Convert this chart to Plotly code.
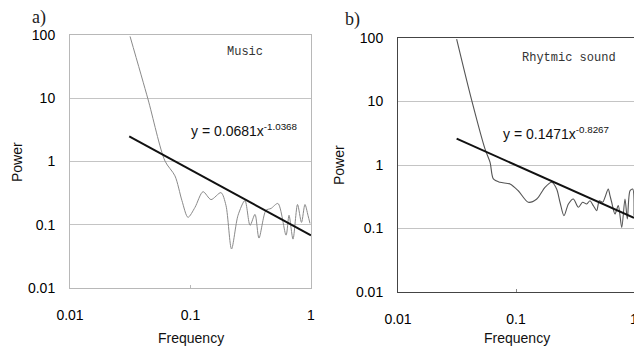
import plotly.graph_objects as go

OFF = 8  # page body margin in the browser
W, H = 642 - OFF, 349 - OFF

# ---- data ----
music_freq = [0.0315, 0.0443, 0.0614, 0.0743, 0.0849, 0.0953, 0.1089, 0.127, 0.148, 0.179,
              0.197, 0.219, 0.248, 0.283, 0.312, 0.343, 0.370, 0.423, 0.466, 0.532,
              0.621, 0.657, 0.709, 0.773, 0.834, 0.891, 0.944, 0.981]
music_power = [95, 9.8, 1.02, 0.593, 0.241, 0.131, 0.188, 0.333, 0.250, 0.322,
               0.202, 0.0414, 0.141, 0.241, 0.098, 0.146, 0.0616, 0.169, 0.181, 0.217,
               0.0685, 0.141, 0.0593, 0.209, 0.109, 0.209, 0.141, 0.105]
music_trend_x = [0.031, 1.0]
music_trend_y = [2.5, 0.0681]

rhythm_freq = [0.0314, 0.0422, 0.0546, 0.0603, 0.0643, 0.0732, 0.0889, 0.1045, 0.127, 0.150,
               0.176, 0.201, 0.221, 0.236, 0.255, 0.278, 0.306, 0.338, 0.367, 0.397,
               0.424, 0.452, 0.483, 0.508, 0.543, 0.568, 0.605, 0.626, 0.647, 0.690,
               0.736, 0.787, 0.839, 0.878, 0.925, 0.975, 1.0]
rhythm_power = [96, 10.3, 1.79, 1.10, 0.603, 0.534, 0.503, 0.393, 0.259, 0.292,
                0.446, 0.535, 0.419, 0.259, 0.159, 0.243, 0.292, 0.216, 0.259, 0.243,
                0.274, 0.229, 0.191, 0.274, 0.259, 0.310, 0.419, 0.329, 0.259, 0.169,
                0.229, 0.104, 0.292, 0.141, 0.393, 0.419, 0.159]
rhythm_trend_x = [0.0314, 1.0]
rhythm_trend_y = [2.6, 0.147]

x_ticks = [0.01, 0.1, 1]
x_tick_labels = ["0.01", "0.1", "1"]
y_ticks = [0.01, 0.1, 1, 10, 100]
y_tick_labels = ["0.01", "0.1", "1", "10", "100"]

panel_labels = ["a)", "b)"]
panel_titles = ["Music", "Rhytmic sound"]
equations = ["y = 0.0681x<sup>-1.0368</sup>", "y = 0.1471x<sup>-0.8267</sup>"]


def px(x):
    return (x - OFF) / W


def py(y):
    return 1 - (y - OFF) / H


fig = go.Figure()

fig.add_trace(go.Scatter(x=music_freq, y=music_power, mode="lines",
                         line=dict(color="#8a8a8a", width=1, shape="spline", smoothing=0.8),
                         xaxis="x", yaxis="y", showlegend=False))
fig.add_trace(go.Scatter(x=music_trend_x, y=music_trend_y, mode="lines",
                         line=dict(color="#111111", width=2),
                         xaxis="x", yaxis="y", showlegend=False))
fig.add_trace(go.Scatter(x=rhythm_freq, y=rhythm_power, mode="lines",
                         line=dict(color="#555555", width=1.1, shape="spline", smoothing=0.8),
                         xaxis="x2", yaxis="y2", showlegend=False))
fig.add_trace(go.Scatter(x=rhythm_trend_x, y=rhythm_trend_y, mode="lines",
                         line=dict(color="#111111", width=2),
                         xaxis="x2", yaxis="y2", showlegend=False))

tick_font = dict(family="Liberation Sans, Arial, sans-serif", size=14, color="#000")

common_x = dict(type="log", range=[-2, 0], tickvals=x_ticks, ticktext=x_tick_labels,
                showgrid=False, zeroline=False, ticks="inside", ticklen=3, automargin=False,
                tickfont=tick_font, ticklabelstandoff=14, mirror=True, showline=True)
common_y = dict(type="log", range=[-2, 2], tickvals=y_ticks, ticktext=y_tick_labels,
                showgrid=True, gridcolor="#c4c4c4", gridwidth=1, zeroline=False, ticks="",
                automargin=False,
                tickfont=tick_font, ticklabelstandoff=11, mirror=True, showline=True)

fig.update_layout(
    width=W, height=H, autosize=False,
    margin=dict(l=0, r=0, t=0, b=0),
    paper_bgcolor="white", plot_bgcolor="white",
    xaxis=dict(common_x, domain=[px(70), px(311)], anchor="y", linecolor="#b8b8b8", tickcolor="#b8b8b8"),
    yaxis=dict(common_y, domain=[py(288), py(35)], anchor="x", linecolor="#b8b8b8"),
    xaxis2=dict(common_x, domain=[px(398), px(634)], anchor="y2", linecolor="#444444", tickcolor="#888"),
    yaxis2=dict(common_y, domain=[py(292), py(38)], anchor="x2", linecolor="#444444"),
)

ann = []
label_font = dict(family="Liberation Sans, Arial, sans-serif", size=14, color="#111")


def add_text(text, x, y, font, angle=0):
    ann.append(dict(x=px(x), y=py(y), text=text, textangle=angle, showarrow=False,
                    xref="paper", yref="paper", xanchor="center", yanchor="middle", font=font))


# axis titles
add_text("Power", 17, 162, label_font, -90)
add_text("Power", 339, 165, label_font, -90)
add_text("Frequency", 191, 338, label_font)
add_text("Frequency", 517, 338, label_font)
# panel labels
for t, (x, y) in zip(panel_labels, [(39, 18), (352, 20)]):
    add_text(t, x, y, dict(family="Liberation Serif, serif", size=18, color="#222"))
# titles inside plots
for t, (x, y) in zip(panel_titles, [(245, 52), (569, 58)]):
    add_text(t, x, y, dict(family="Liberation Mono, monospace", size=12, color="#333"))
# equations
for t, (x, y) in zip(equations, [(244, 130), (556, 133)]):
    add_text(t, x, y, dict(family="Liberation Sans, Arial, sans-serif", size=14, color="#111"))

fig.update_layout(annotations=ann)

fig.write_html("out.html")
